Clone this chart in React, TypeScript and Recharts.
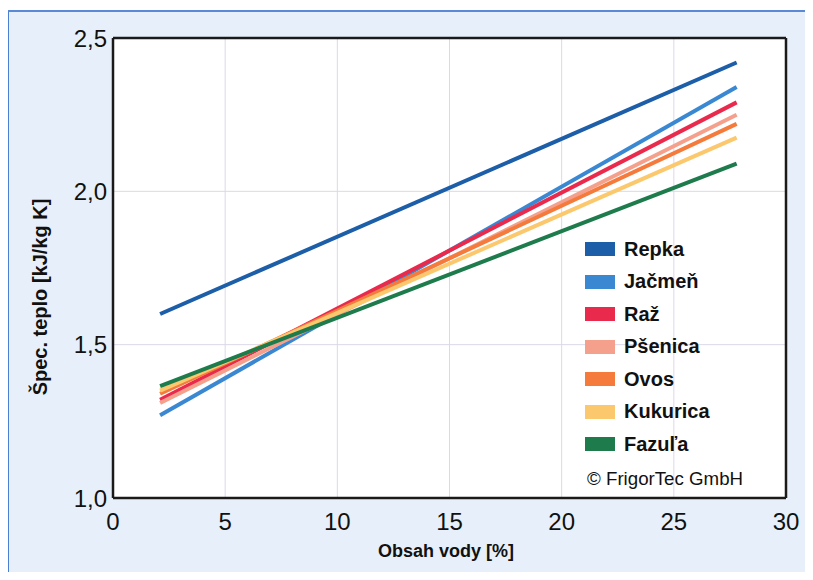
import React from 'react';
import {
  LineChart,
  Line,
  XAxis,
  YAxis,
  CartesianGrid,
  ReferenceLine,
} from 'recharts';

// water content [%] at the two ends of each line
const waterContent = [2.1, 27.8];

// specific heat [kJ/kg K]
const repka = [1.6, 2.42];
const jacmen = [1.27, 2.34];
const raz = [1.32, 2.29];
const psenica = [1.31, 2.25];
const ovos = [1.34, 2.22];
const kukurica = [1.35, 2.175];
const fazula = [1.365, 2.09];

const xTicks = [0, 5, 10, 15, 20, 25, 30];
const yTicks = [1.0, 1.5, 2.0, 2.5];

const series = [
  { key: 'repka', name: 'Repka', values: repka, color: '#1d5ea8' },
  { key: 'jacmen', name: 'Jačmeň', values: jacmen, color: '#3a87d2' },
  { key: 'raz', name: 'Raž', values: raz, color: '#ea2a4c' },
  { key: 'psenica', name: 'Pšenica', values: psenica, color: '#f5a08c' },
  { key: 'ovos', name: 'Ovos', values: ovos, color: '#f47b3c' },
  { key: 'kukurica', name: 'Kukurica', values: kukurica, color: '#fcc86e' },
  { key: 'fazula', name: 'Fazuľa', values: fazula, color: '#1e7b4c' },
];

const data = waterContent.map((x, i) => {
  const row: Record<string, number> = { x };
  series.forEach(s => {
    row[s.key] = s.values[i];
  });
  return row;
});

const font = '"Liberation Sans", Arial, sans-serif';

const App: React.FC = () => {
  return (
    <div
      style={{
        position: 'relative',
        width: 813,
        height: 580,
        margin: -8,
        background: '#ffffff',
        overflow: 'hidden',
        fontFamily: font,
      }}
    >
      <div
        style={{
          position: 'absolute',
          left: 7,
          top: 10,
          width: 840,
          height: 600,
          background: '#e7f0fa',
          borderLeft: '2px solid #4a7fd2',
          borderTop: '2px solid #5a8ad6',
        }}
      />
      <div style={{ position: 'absolute', left: 0, top: 0 }}>
        <LineChart
          width={813}
          height={580}
          data={data}
          margin={{ top: 38, right: 27, bottom: 42, left: 53 }}
        >
          <CartesianGrid stroke="#dcd8e8" strokeWidth={1} fill="#ffffff" />
          <XAxis
            dataKey="x"
            type="number"
            domain={[0, 30]}
            ticks={xTicks}
            height={40}
            tickSize={0}
            tickMargin={15}
            axisLine={{ stroke: '#1a1a1a', strokeWidth: 2.5 }}
            tickLine={false}
            tick={{ fontSize: 24, fill: '#111', fontFamily: font }}
          />
          <YAxis
            type="number"
            domain={[1, 2.5]}
            ticks={yTicks}
            width={60}
            tickSize={0}
            tickMargin={6}
            axisLine={{ stroke: '#1a1a1a', strokeWidth: 2.5 }}
            tickLine={false}
            tick={{ fontSize: 24, fill: '#111', fontFamily: font }}
            tickFormatter={(v: number) => v.toFixed(1).replace('.', ',')}
          />
          <ReferenceLine y={2.5} stroke="#1a1a1a" strokeWidth={2.5} />
          <ReferenceLine x={30} stroke="#1a1a1a" strokeWidth={2.5} />
          {series.map(s => (
            <Line
              key={s.key}
              type="linear"
              dataKey={s.key}
              name={s.name}
              stroke={s.color}
              strokeWidth={4}
              dot={false}
              activeDot={false}
              isAnimationActive={false}
            />
          ))}
        </LineChart>
      </div>

      {/* y axis title */}
      <div
        style={{
          position: 'absolute',
          left: 40,
          top: 297,
          transform: 'translate(-50%, -50%) rotate(-90deg)',
          whiteSpace: 'nowrap',
          fontSize: 20,
          fontWeight: 'bold',
          color: '#111',
        }}
      >
        Špec. teplo [kJ/kg K]
      </div>

      {/* x axis title */}
      <div
        style={{
          position: 'absolute',
          left: 446,
          top: 551,
          transform: 'translate(-50%, -50%)',
          whiteSpace: 'nowrap',
          fontSize: 18,
          fontWeight: 'bold',
          color: '#111',
        }}
      >
        Obsah vody [%]
      </div>

      {/* legend */}
      {series.map((s, i) => (
        <div
          key={s.key}
          style={{
            position: 'absolute',
            left: 585,
            top: 249 + i * 32.5 - 12,
            height: 24,
            display: 'flex',
            alignItems: 'center',
            whiteSpace: 'nowrap',
          }}
        >
          <div style={{ width: 30, height: 14, background: s.color }} />
          <span
            style={{
              marginLeft: 9,
              fontSize: 20,
              fontWeight: 'bold',
              color: '#111',
            }}
          >
            {s.name}
          </span>
        </div>
      ))}

      <div
        style={{
          position: 'absolute',
          left: 587,
          top: 479,
          transform: 'translateY(-50%)',
          whiteSpace: 'nowrap',
          fontSize: 18.7,
          color: '#111',
        }}
      >
        © FrigorTec GmbH
      </div>
    </div>
  );
};

export default App;
